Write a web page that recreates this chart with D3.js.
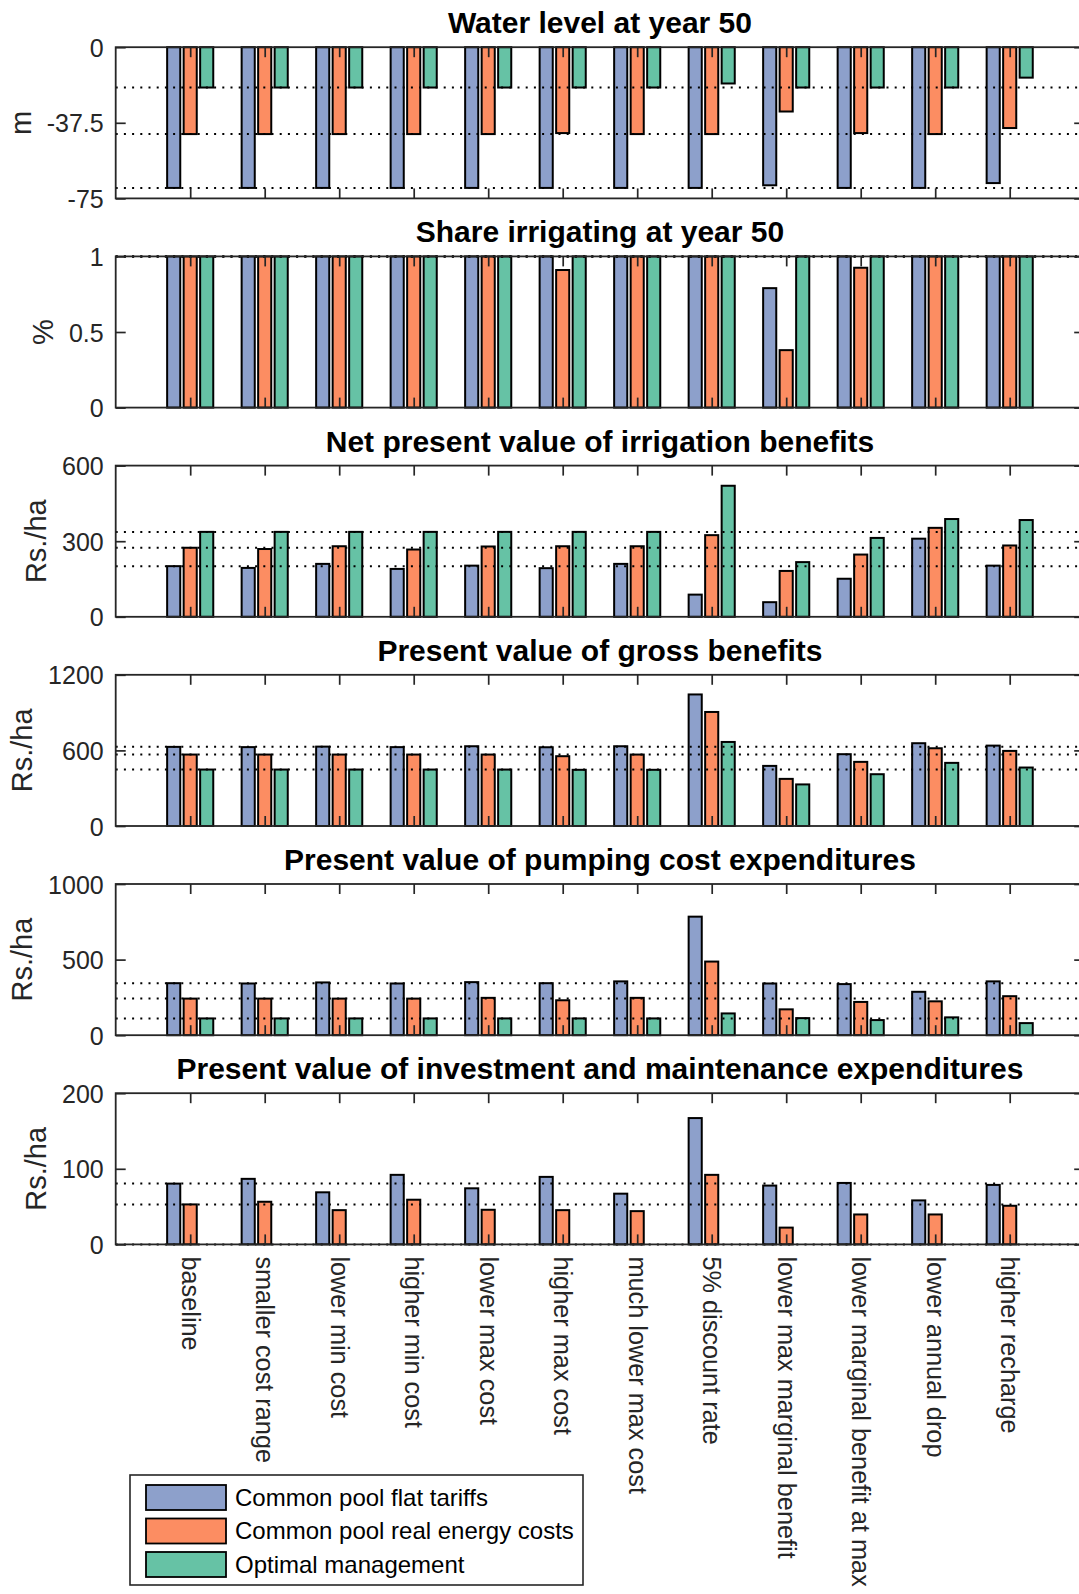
<!DOCTYPE html>
<html>
<head>
<meta charset="utf-8">
<script src="https://cdn.jsdelivr.net/npm/d3@7"></script>
<style>
body { margin: 0; background: #fff; }
svg { display: block; font-family: "Liberation Sans", Arial, sans-serif; }
</style>
</head>
<body>
<div id="chart"></div>
<script>
// scenarios on the x axis
const categories = ["baseline", "smaller cost range", "lower min cost", "higher min cost",
  "lower max cost", "higher max cost", "much lower max cost", "5% discount rate",
  "lower max marginal benefit", "lower marginal benefit at max", "lower annual drop", "higher recharge"];
const seriesNames = ["Common pool flat tariffs", "Common pool real energy costs", "Optimal management"];
const seriesColors = ["#8DA0CB", "#FC8D62", "#66C2A5"];

// water level at year 50 (m)
const waterFlat = [-69.8, -69.8, -69.8, -69.8, -69.8, -69.8, -69.8, -69.8, -68.5, -69.8, -69.8, -67.4];
const waterReal = [-43.1, -43.1, -43.1, -43.1, -43.1, -42.6, -43.1, -43.1, -31.9, -42.6, -43.1, -40.1];
const waterOpt  = [-20, -20, -20, -20, -20, -20, -20, -18, -20, -20, -20, -15.1];
// share irrigating at year 50
const shareFlat = [1, 1, 1, 1, 1, 1, 1, 1, 0.79, 1, 1, 1];
const shareReal = [1, 1, 1, 1, 1, 0.91, 1, 1, 0.38, 0.925, 1, 1];
const shareOpt  = [1, 1, 1, 1, 1, 1, 1, 1, 1, 1, 1, 1];
// net present value of irrigation benefits (Rs./ha)
const npvFlat = [201, 194, 210, 190, 203, 193, 210, 88, 58, 151, 310, 203];
const npvReal = [274, 269, 280, 267, 279, 280, 280, 324, 182, 247, 353, 283];
const npvOpt  = [337, 337, 337, 337, 337, 337, 337, 520, 217, 313, 388, 384];
// present value of gross benefits (Rs./ha)
const grossFlat = [628, 626, 630, 626, 633, 625, 633, 1044, 477, 570, 657, 638];
const grossReal = [567, 567, 567, 567, 567, 554, 567, 905, 374, 509, 617, 596];
const grossOpt  = [448, 448, 448, 448, 448, 446, 446, 667, 330, 411, 501, 464];
// present value of pumping cost expenditures (Rs./ha)
const pumpFlat = [344, 342, 349, 342, 351, 344, 356, 784, 342, 338, 287, 356];
const pumpReal = [242, 242, 242, 242, 247, 231, 247, 487, 171, 220, 224, 258];
const pumpOpt  = [111, 111, 111, 111, 111, 111, 111, 144, 113, 100, 118, 80];
// present value of investment and maintenance expenditures (Rs./ha)
const investFlat = [80.4, 86.7, 68.9, 92, 74.2, 89.3, 67.1, 167.1, 77.8, 81.3, 58.2, 78.7];
const investReal = [52.9, 56.4, 45.3, 59.1, 45.8, 45.3, 44, 92, 22.2, 39.6, 39.6, 51.1];
const investOpt  = [0, 0, 0, 0, 0, 0, 0, 0, 0, 0, 0, 0];

const panels = [
  { title: "Water level at year 50", label: "m", domain: [-75, 0], ticks: [-75, -37.5, 0], series: [waterFlat, waterReal, waterOpt] },
  { title: "Share irrigating at year 50", label: "%", domain: [0, 1], ticks: [0, 0.5, 1], series: [shareFlat, shareReal, shareOpt] },
  { title: "Net present value of irrigation benefits", label: "Rs./ha", domain: [0, 600], ticks: [0, 300, 600], series: [npvFlat, npvReal, npvOpt] },
  { title: "Present value of gross benefits", label: "Rs./ha", domain: [0, 1200], ticks: [0, 600, 1200], series: [grossFlat, grossReal, grossOpt] },
  { title: "Present value of pumping cost expenditures", label: "Rs./ha", domain: [0, 1000], ticks: [0, 500, 1000], series: [pumpFlat, pumpReal, pumpOpt] },
  { title: "Present value of investment and maintenance expenditures", label: "Rs./ha", domain: [0, 200], ticks: [0, 100, 200], series: [investFlat, investReal, investOpt] }
];

const W = 1079, H = 1594;
const axisColor = "#262626";
const left = 115.7, unit = 74.5;
const panelTop = 47.2, panelStep = 209.2, panelH = 151.2;
const barOffset = 0.2215, barWidth = 0.176;

const svg = d3.select("#chart").append("svg")
  .attr("width", W)
  .attr("height", H);

const x = d3.scaleLinear().domain([0, 13]).range([left, left + 13 * unit]);
const x0 = x(0), x1 = x(13);

panels.forEach((p, pi) => {
  const top = panelTop + pi * panelStep;
  const bottom = top + panelH;
  const y = d3.scaleLinear().domain(p.domain).range([bottom, top]);
  const g = svg.append("g");

  // bars
  p.series.forEach((vals, si) => {
    g.append("g").selectAll("rect")
      .data(vals)
      .join("rect")
      .attr("x", (d, i) => x(i + 1 + (si - 1) * barOffset - barWidth / 2))
      .attr("width", x(barWidth) - x(0))
      .attr("y", d => Math.min(y(0), y(d)))
      .attr("height", d => Math.abs(y(d) - y(0)))
      .attr("fill", seriesColors[si])
      .attr("stroke", "#000")
      .attr("stroke-width", 2);
  });

  // dotted reference lines at the baseline scenario values
  p.series.forEach(vals => {
    g.append("line")
      .attr("x1", x0).attr("x2", x1)
      .attr("y1", y(vals[0])).attr("y2", y(vals[0]))
      .attr("stroke", "#000")
      .attr("stroke-width", 2)
      .attr("stroke-dasharray", "2,6.2");
  });

  // axes
  const yAxis = g.append("g")
    .attr("transform", `translate(${x0},0)`)
    .call(d3.axisLeft(y).tickValues(p.ticks).tickSize(-10).tickPadding(12).tickFormat(d => String(d)));
  g.append("g")
    .attr("transform", `translate(${x1},0)`)
    .call(d3.axisRight(y).tickValues(p.ticks).tickSize(-10).tickFormat(""));
  g.append("g")
    .attr("transform", `translate(0,${top})`)
    .call(d3.axisTop(x).tickValues(d3.range(1, 13)).tickSize(-10).tickFormat(""));
  const xAxis = g.append("g")
    .attr("transform", `translate(0,${bottom})`)
    .call(d3.axisBottom(x).tickValues(d3.range(1, 13)).tickSize(-10)
      .tickFormat(pi === panels.length - 1 ? (d => categories[d - 1]) : ""));

  g.selectAll(".domain").remove();
  g.selectAll(".tick line").attr("stroke", axisColor).attr("stroke-width", 1.7);
  yAxis.selectAll("text")
    .attr("fill", axisColor)
    .attr("dy", "0.36em")
    .style("font-size", "25px");

  if (pi === panels.length - 1) {
    xAxis.selectAll("text")
      .attr("fill", axisColor)
      .attr("x", 12)
      .attr("y", 0)
      .attr("dy", "0.35em")
      .attr("transform", "rotate(90)")
      .style("text-anchor", "start")
      .style("font-size", "25.3px");
  }

  // box
  g.append("rect")
    .attr("x", x0).attr("y", top)
    .attr("width", x1 - x0).attr("height", panelH)
    .attr("fill", "none")
    .attr("stroke", axisColor)
    .attr("stroke-width", 1.8);

  // title
  g.append("text")
    .attr("x", (x0 + x1) / 2)
    .attr("y", top - 14)
    .attr("text-anchor", "middle")
    .style("font-size", "30px")
    .style("font-weight", "bold")
    .attr("fill", "#000")
    .text(p.title);

  // y label, just left of the tick labels
  const bb = yAxis.node().getBBox();
  const lx = x0 + bb.x - 26, ly = (top + bottom) / 2;
  g.append("text")
    .attr("transform", `translate(${lx},${ly}) rotate(-90)`)
    .attr("text-anchor", "middle")
    .attr("dominant-baseline", "central")
    .attr("fill", axisColor)
    .style("font-size", "29px")
    .text(p.label);
});

// legend
const legend = svg.append("g").attr("transform", "translate(130,1475)");
legend.append("rect")
  .attr("width", 453).attr("height", 110)
  .attr("fill", "#fff")
  .attr("stroke", axisColor)
  .attr("stroke-width", 1.6);
seriesNames.forEach((name, i) => {
  const row = legend.append("g").attr("transform", `translate(0,${10 + i * 33.5})`);
  row.append("rect")
    .attr("x", 16).attr("width", 80).attr("height", 25)
    .attr("fill", seriesColors[i])
    .attr("stroke", "#000")
    .attr("stroke-width", 1.8);
  row.append("text")
    .attr("x", 105).attr("y", 12.5).attr("dy", "0.35em")
    .style("font-size", "24px")
    .attr("fill", "#000")
    .text(name);
});
</script>
</body>
</html>
